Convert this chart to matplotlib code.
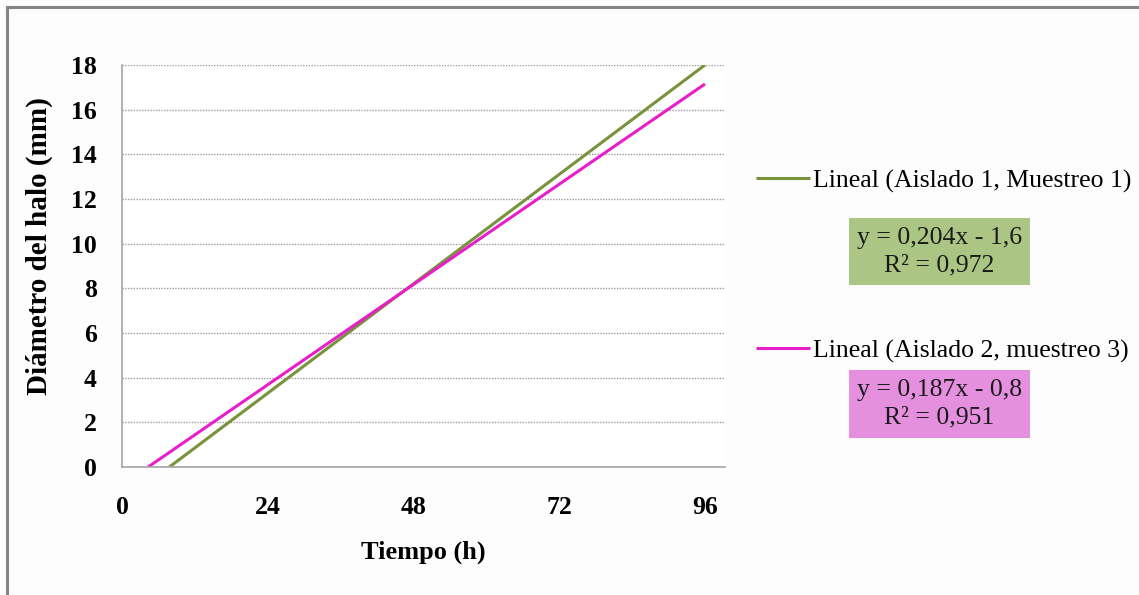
import matplotlib.pyplot as plt
from matplotlib.lines import Line2D
from matplotlib.patches import Rectangle

# trend line endpoints (hours, mm)
green_x = [7.8, 96]
green_y = [0.0, 18.0]
pink_x = [4.3, 96]
pink_y = [0.0, 17.15]

series_labels = ["Lineal (Aislado 1, Muestreo 1)", "Lineal (Aislado 2, muestreo 3)"]
equations = ["y = 0,204x - 1,6\nR² = 0,972", "y = 0,187x - 0,8\nR² = 0,951"]
x_ticks = [0, 24, 48, 72, 96]
y_ticks = [0, 2, 4, 6, 8, 10, 12, 14, 16, 18]

plt.rcParams["font.family"] = ["Liberation Serif", "DejaVu Serif"]

W, H = 1139, 595
fig = plt.figure(figsize=(W / 100, H / 100), dpi=100)
fig.patch.set_facecolor("#fdfdfd")

ax = fig.add_axes([122 / W, 1 - 467 / H, (725 - 122) / W, (467 - 65) / H])
ax.set_facecolor("white")

green_color = "#77933c"
pink_color = "#e81ec8"
l1, = ax.plot(green_x, green_y, color=green_color, linewidth=2.2, solid_capstyle="butt")
l2, = ax.plot(pink_x, pink_y, color=pink_color, linewidth=2.2, solid_capstyle="butt")

ax.set_xlim(0, 99.3)
ax.set_ylim(0, 18)
ax.set_xticks(x_ticks)
ax.set_yticks(y_ticks)
ax.tick_params(length=0, labelsize=18.5)
ax.tick_params(axis="y", pad=18)
ax.tick_params(axis="x", pad=21)
for lab in ax.get_xticklabels() + ax.get_yticklabels():
    lab.set_fontweight("bold")

ax.grid(axis="y", color="#9c9c9c", linestyle=(0, (1, 1)), linewidth=1.0)
ax.set_axisbelow(True)
for side in ["top", "right"]:
    ax.spines[side].set_visible(False)
for side in ["left", "bottom"]:
    ax.spines[side].set_color("#a6a6a6")
    ax.spines[side].set_linewidth(1.2)

ax.set_xlabel("Tiempo (h)", fontsize=19, fontweight="bold")
ax.xaxis.set_label_coords(0.5, (467 - 541) / 402)
ax.set_ylabel("Diámetro del halo (mm)", fontsize=21, fontweight="bold")
ax.yaxis.set_label_coords((53 - 122) / 603, (467 - 246) / 402)

# legend entries
leg = fig.legend(
    [l1, l2],
    series_labels,
    loc="center left",
    bbox_to_anchor=(733 / W, 1 - 266 / H),
    frameon=False,
    fontsize=18.5,
    handlelength=2.1,
    handletextpad=0.1,
    labelspacing=5.7,
)

# equation boxes
boxes = [(849, 218, 1030, 285, "#abc684"), (849, 370, 1030, 438, "#e590de")]
for (x0, y0, x1, y1, fc), eq in zip(boxes, equations):
    fig.add_artist(Rectangle((x0 / W, 1 - y1 / H), (x1 - x0) / W, (y1 - y0) / H,
                             transform=fig.transFigure, facecolor=fc, edgecolor="none"))
    fig.text((x0 + x1) / 2 / W, 1 - (y0 + y1) / 2 / H, eq, ha="center", va="center",
             fontsize=18.5, linespacing=1.3, color="#1a1a1a")

# outer frame (top and left edges only visible)
fig.add_artist(Line2D([7 / W, 1], [1 - 7 / H, 1 - 7 / H], transform=fig.transFigure,
                      color="#858585", linewidth=2.2))
fig.add_artist(Line2D([7 / W, 7 / W], [0, 1 - 7 / H], transform=fig.transFigure,
                      color="#858585", linewidth=2.2))

fig.savefig("out.png", dpi=100)
